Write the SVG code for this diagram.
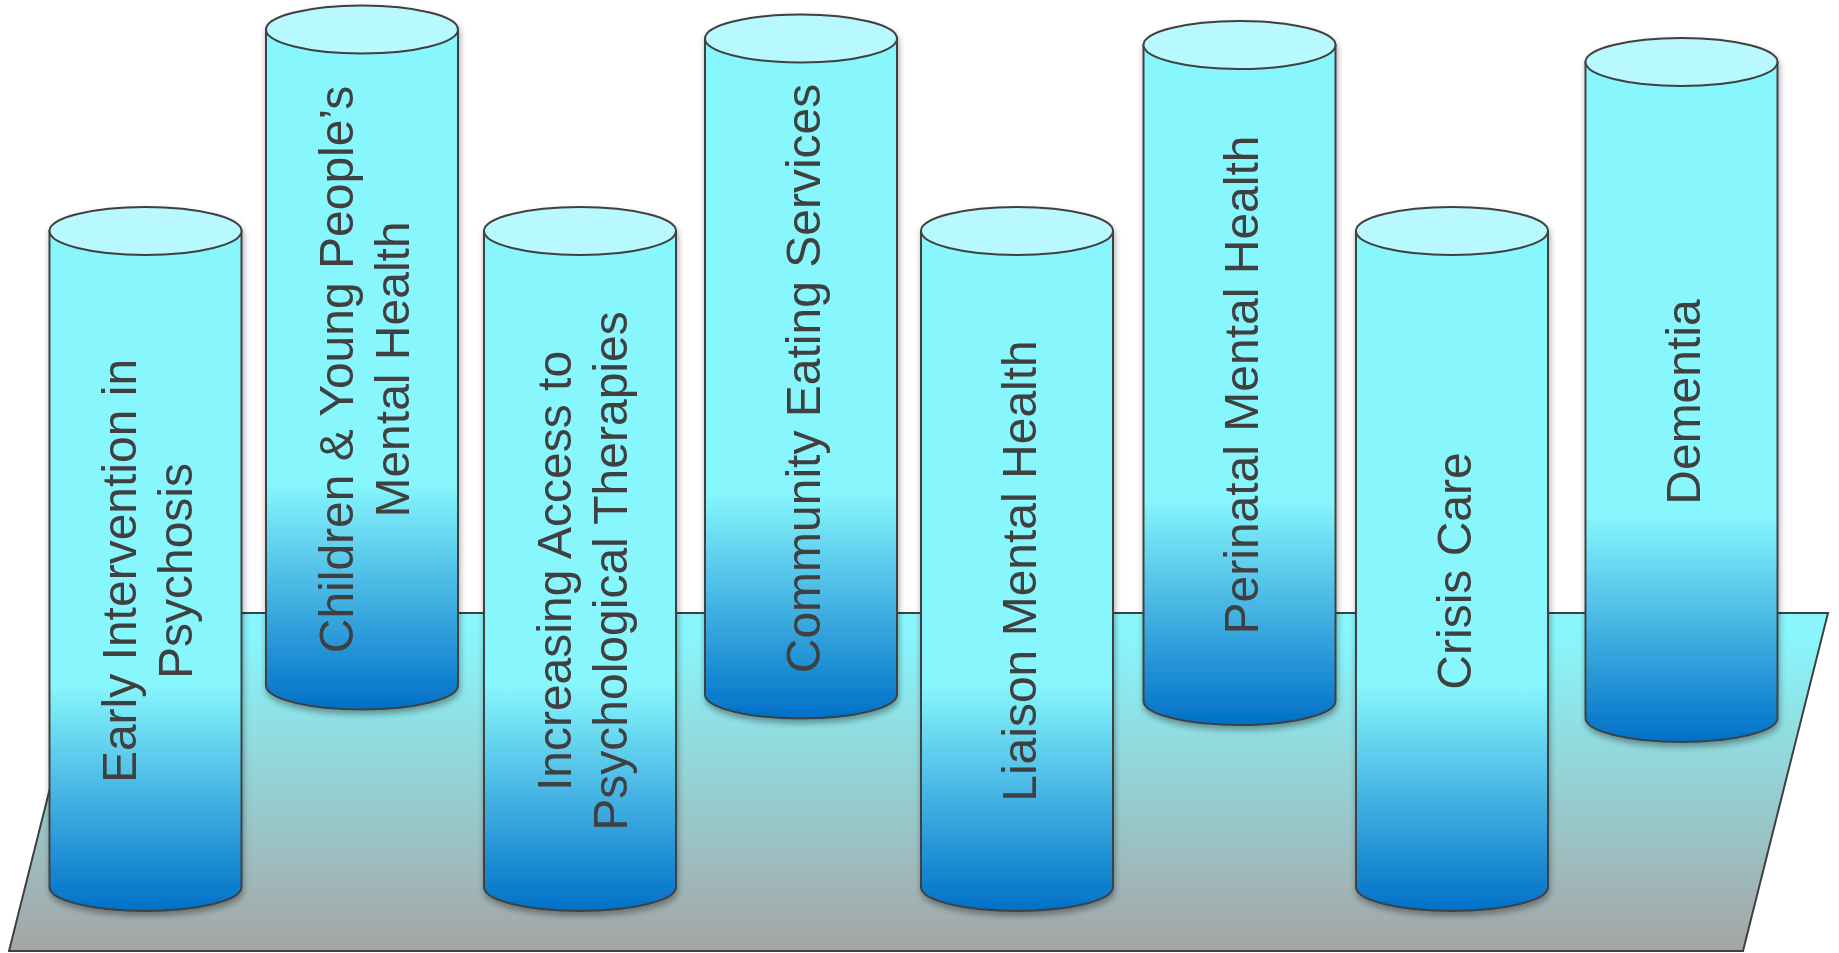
<svg xmlns="http://www.w3.org/2000/svg" width="1839" height="953" viewBox="0 0 1839 953">
<style>
.body{fill:url(#bodyGrad);stroke:#404040;stroke-width:2}
.top{fill:#B7F9FE;stroke:#404040;stroke-width:2}
.lbl{font-family:"Liberation Sans",Arial,sans-serif;font-size:48px;fill:#404040;text-anchor:middle}
</style>
<defs>
<linearGradient id="bodyGrad" x1="0" y1="0" x2="0" y2="1">
<stop offset="0" stop-color="#88F7FD"/>
<stop offset="0.665" stop-color="#88F7FD"/>
<stop offset="1" stop-color="#0070C8"/>
</linearGradient>
<linearGradient id="floorGrad" x1="0" y1="0" x2="0" y2="1">
<stop offset="0" stop-color="#88F7FD"/>
<stop offset="0.08" stop-color="#88F5FB"/>
<stop offset="1" stop-color="#A5A5A5"/>
</linearGradient>
<filter id="shadow" x="-20%" y="-10%" width="140%" height="120%">
<feDropShadow dx="1" dy="4" stdDeviation="3" flood-color="#000" flood-opacity="0.35"/>
</filter>
</defs>
<g id="floor">
<polygon points="94,613 1828,613 1743,951 9,951" fill="url(#floorGrad)" stroke="#404040" stroke-width="2"/>
</g>
<g id="connectors"></g>
<g id="cyl1" filter="url(#shadow)">
<path class="body" d="M49.5,231 L49.5,887 A96,24 0 0 0 241.5,887 L241.5,231 Z"/>
<ellipse class="top" cx="145.5" cy="231" rx="96" ry="24"/>
<text class="lbl" transform="translate(145.5,571) rotate(-90)"><tspan x="0" y="-9.5">Early Intervention in</tspan><tspan x="0" y="46.5">Psychosis</tspan></text>
</g>
<g id="cyl2" filter="url(#shadow)">
<path class="body" d="M266,29.5 L266,685.5 A96,24 0 0 0 458,685.5 L458,29.5 Z"/>
<ellipse class="top" cx="362" cy="29.5" rx="96" ry="24"/>
<text class="lbl" transform="translate(362,369.5) rotate(-90)"><tspan x="0" y="-9.5">Children &amp; Young People’s</tspan><tspan x="0" y="46.5">Mental Health</tspan></text>
</g>
<g id="cyl3" filter="url(#shadow)">
<path class="body" d="M484,231 L484,887 A96,24 0 0 0 676,887 L676,231 Z"/>
<ellipse class="top" cx="580" cy="231" rx="96" ry="24"/>
<text class="lbl" transform="translate(580,571) rotate(-90)"><tspan x="0" y="-9.5">Increasing Access to</tspan><tspan x="0" y="46.5">Psychological Therapies</tspan></text>
</g>
<g id="cyl4" filter="url(#shadow)">
<path class="body" d="M705,38.5 L705,694.5 A96,24 0 0 0 897,694.5 L897,38.5 Z"/>
<ellipse class="top" cx="801" cy="38.5" rx="96" ry="24"/>
<text class="lbl" transform="translate(801,378.5) rotate(-90)" x="0" y="18.5">Community Eating Services</text>
</g>
<g id="cyl5" filter="url(#shadow)">
<path class="body" d="M921,231 L921,887 A96,24 0 0 0 1113,887 L1113,231 Z"/>
<ellipse class="top" cx="1017" cy="231" rx="96" ry="24"/>
<text class="lbl" transform="translate(1017,571) rotate(-90)" x="0" y="18.5">Liaison Mental Health</text>
</g>
<g id="cyl6" filter="url(#shadow)">
<path class="body" d="M1143.5,45 L1143.5,701 A96,24 0 0 0 1335.5,701 L1335.5,45 Z"/>
<ellipse class="top" cx="1239.5" cy="45" rx="96" ry="24"/>
<text class="lbl" transform="translate(1239.5,385) rotate(-90)" x="0" y="18.5">Perinatal Mental Health</text>
</g>
<g id="cyl7" filter="url(#shadow)">
<path class="body" d="M1356,231 L1356,887 A96,24 0 0 0 1548,887 L1548,231 Z"/>
<ellipse class="top" cx="1452" cy="231" rx="96" ry="24"/>
<text class="lbl" transform="translate(1452,571) rotate(-90)" x="0" y="18.5">Crisis Care</text>
</g>
<g id="cyl8" filter="url(#shadow)">
<path class="body" d="M1585.5,62 L1585.5,718 A96,24 0 0 0 1777.5,718 L1777.5,62 Z"/>
<ellipse class="top" cx="1681.5" cy="62" rx="96" ry="24"/>
<text class="lbl" transform="translate(1681.5,402) rotate(-90)" x="0" y="18.5">Dementia</text>
</g>
</svg>
